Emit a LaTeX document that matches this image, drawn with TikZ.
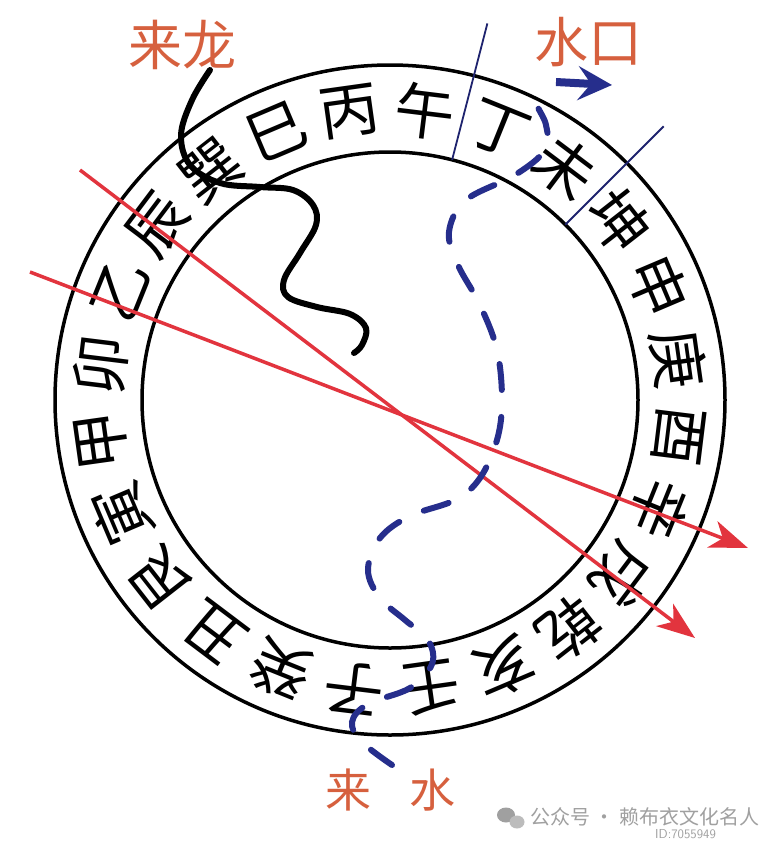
\documentclass[tikz,border=0pt]{standalone}
\usepackage{fontspec}
\newfontfamily\cjk{Noto Sans CJK SC}
\usetikzlibrary{arrows.meta}
\definecolor{lblred}{RGB}{214,96,62}
\definecolor{linered}{RGB}{226,52,62}
\definecolor{riverblue}{RGB}{38,46,140}
\definecolor{divblue}{RGB}{30,35,110}
\definecolor{wmgray}{RGB}{160,160,160}
\begin{document}
\begin{tikzpicture}[x=1pt,y=-1pt,
  mtn/.style={font=\cjk\fontsize{60}{60}\selectfont, inner sep=0pt},
  lbl/.style={font=\cjk\fontsize{54}{54}\selectfont, text=lblred, inner sep=0pt},
  lblsmall/.style={font=\cjk\fontsize{46}{46}\selectfont, text=lblred, inner sep=0pt},
  wm/.style={font=\cjk\fontsize{20}{20}\selectfont, text=wmgray, inner sep=0pt},
  ring/.style={line width=3.5pt, draw=black},
  ray/.style={line width=3.5pt, draw=linered, -{Stealth[length=38pt,width=28pt,inset=11pt,fill=linered]}},
  divider/.style={line width=1.8pt, draw=divblue},
  river/.style={line width=6pt, draw=riverblue, dash pattern=on 26pt off 27pt, line cap=round},
  dragon/.style={line width=6pt, draw=black, line cap=round, line join=round}]
\useasboundingbox[fill=white] (0,0) rectangle (760,847);
\coordinate (c) at (390,400);
% ring
\draw[ring] (c) circle[radius=335pt];
\draw[ring] (c) circle[radius=248pt];
% 24 mountains
\foreach \ch [count=\k from 0] in {午,丁,未,坤,申,庚,酉,辛,戌,乾,亥,壬,子,癸,丑,艮,寅,甲,卯,乙,辰,巽,巳,丙} {
  \pgfmathsetmacro{\a}{7+15*\k}
  \node[mtn, rotate=-\a] (m\k) at ({390+291*sin(\a)},{400-291*cos(\a)}) {\ch};
}
% blue dividers
\coordinate (d1a) at ({390+248*sin(14.5)},{400-248*cos(14.5)});
\coordinate (d1b) at ({390+389*sin(14.5)},{400-389*cos(14.5)});
\coordinate (d2a) at ({390+248*sin(45)},{400-248*cos(45)});
\coordinate (d2b) at ({390+387*sin(45)},{400-387*cos(45)});
\draw[divider] (d1a) -- (d1b);
\draw[divider] (d2a) -- (d2b);
% red rays
\coordinate (r1s) at (80,170);
\coordinate (r1e) at (695,638);
\coordinate (r2s) at (30,272);
\coordinate (r2e) at (748,548);
\draw[ray] (r1s) -- (r1e);
\draw[ray] (r2s) -- (r2e);
% river (dashed)
\draw[river] plot[smooth, tension=0.6] coordinates {
  (392,765) (362,742) (352,722) (368,704) (410,688) (432,664) (428,640)
  (405,620) (380,598) (368,570) (380,538) (410,516) (455,500) (480,478)
  (497,440) (502,400) (497,350) (480,305) (458,265) (449,232) (466,200)
  (515,175) (545,150) (546,125) (536,102) (540,86)};
\coordinate (bw1) at (556,82);
\coordinate (bw2) at (612,85);
\draw[line width=8pt, riverblue, -{Stealth[length=34pt,width=34pt,inset=13pt]}] (bw1) -- (bw2);
% dragon (black wavy line)
\draw[dragon] plot[smooth, tension=0.6] coordinates {
  (210,70) (192,100) (181,135) (190,165) (220,183) (260,187) (293,190)
  (313,205) (316,225) (300,253) (284,280) (288,297) (317,307) (350,314)
  (366,328) (362,345) (354,353)};
% labels
\node[lbl] (lailong) at (182,45) {来龙};
\node[lbl] (shuikou) at (588,42) {水口};
\node[lblsmall] (lai) at (348,790) {来};
\node[lblsmall] (shui) at (432,790) {水};
% watermark
\fill[wmgray] (506,815) ellipse[x radius=9pt, y radius=7.5pt];
\fill[wmgray!70] (517,822) ellipse[x radius=7.5pt, y radius=6.5pt];
\node[wm, anchor=west] (wmtext) at (530,817) {公众号 · 赖布衣文化名人};
\node[wm, font=\sffamily\fontsize{13}{13}\selectfont, anchor=west] (wmid) at (655,834) {ID:7055949};
\end{tikzpicture}
\end{document}
